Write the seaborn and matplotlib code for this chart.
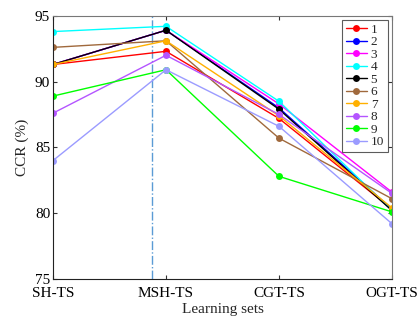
import matplotlib
matplotlib.use("Agg")
import matplotlib.pyplot as plt
import pandas as pd
import seaborn as sns

# --- data ---------------------------------------------------------------
learning_sets = ["SH-TS", "MSH-TS", "CGT-TS", "OGT-TS"]
series_names = ["1", "2", "3", "4", "5", "6", "7", "8", "9", "10"]
ccr_1 = [91.3, 92.3, 87.2, 80.3]
ccr_2 = [91.3, 93.9, 88.0, 80.3]
ccr_3 = [91.3, 93.9, 88.3, 81.6]
ccr_4 = [93.8, 94.2, 88.5, 80.2]
ccr_5 = [91.3, 93.9, 87.9, 80.2]
ccr_6 = [92.6, 93.1, 85.7, 81.1]
ccr_7 = [91.3, 93.1, 87.4, 80.4]
ccr_8 = [87.6, 92.0, 87.5, 81.5]
ccr_9 = [88.9, 90.9, 82.8, 80.1]
ccr_10 = [84.0, 90.9, 86.6, 79.2]
all_series = [ccr_1, ccr_2, ccr_3, ccr_4, ccr_5, ccr_6, ccr_7, ccr_8, ccr_9, ccr_10]
colors = ["#FF0000", "#0000FF", "#FF00FF", "#00FFFF", "#000000",
          "#A0693C", "#FFB000", "#B455FF", "#00FF00", "#9B9BFF"]

rows = []
for name, vals in zip(series_names, all_series):
    for i, v in enumerate(vals):
        rows.append({"set": i, "ccr": v, "series": name})
df = pd.DataFrame(rows)

# --- plot ---------------------------------------------------------------
sns.set_style("ticks")
plt.rcParams["font.family"] = ["Liberation Serif", "DejaVu Serif"]

fig = plt.figure(figsize=(4.19, 3.22), dpi=100)
ax = fig.add_axes([0.1265, 0.1335, 0.809, 0.8175])

sns.lineplot(data=df, x="set", y="ccr", hue="series", hue_order=series_names,
             palette=colors, marker="o", markersize=5, markeredgewidth=0,
             linewidth=1.0, ax=ax)

ax.axvline(0.88, color="#5B9BD5", linestyle="-.", linewidth=1.0, zorder=0)

ax.set_xlim(0, 3)
ax.set_ylim(75, 95)
ax.set_xticks(range(len(learning_sets)))
ax.set_xticklabels(learning_sets)
ax.set_yticks([75, 80, 85, 90, 95])
ax.tick_params(direction="in", length=3, labelsize=11, top=True, right=True,
               colors="#333333", labelcolor="black", pad=2)
ax.tick_params(axis="x", pad=6)
ax.set_xlabel("Learning sets", fontsize=11, labelpad=2)
ax.set_ylabel("CCR (%)", fontsize=11, labelpad=4)

for side in ["left", "bottom"]:
    ax.spines[side].set_color("#222222")
for side in ["top", "right"]:
    ax.spines[side].set_visible(True)
    ax.spines[side].set_color("#777777")

leg = ax.legend(loc="upper right", fontsize=9.5, frameon=True, fancybox=False,
                handlelength=1.6, handletextpad=0.3, labelspacing=0.02,
                borderpad=0.3, borderaxespad=0.3)
leg.get_frame().set_edgecolor("#333333")
leg.get_frame().set_linewidth(0.8)

fig.savefig("out.png", dpi=100)
